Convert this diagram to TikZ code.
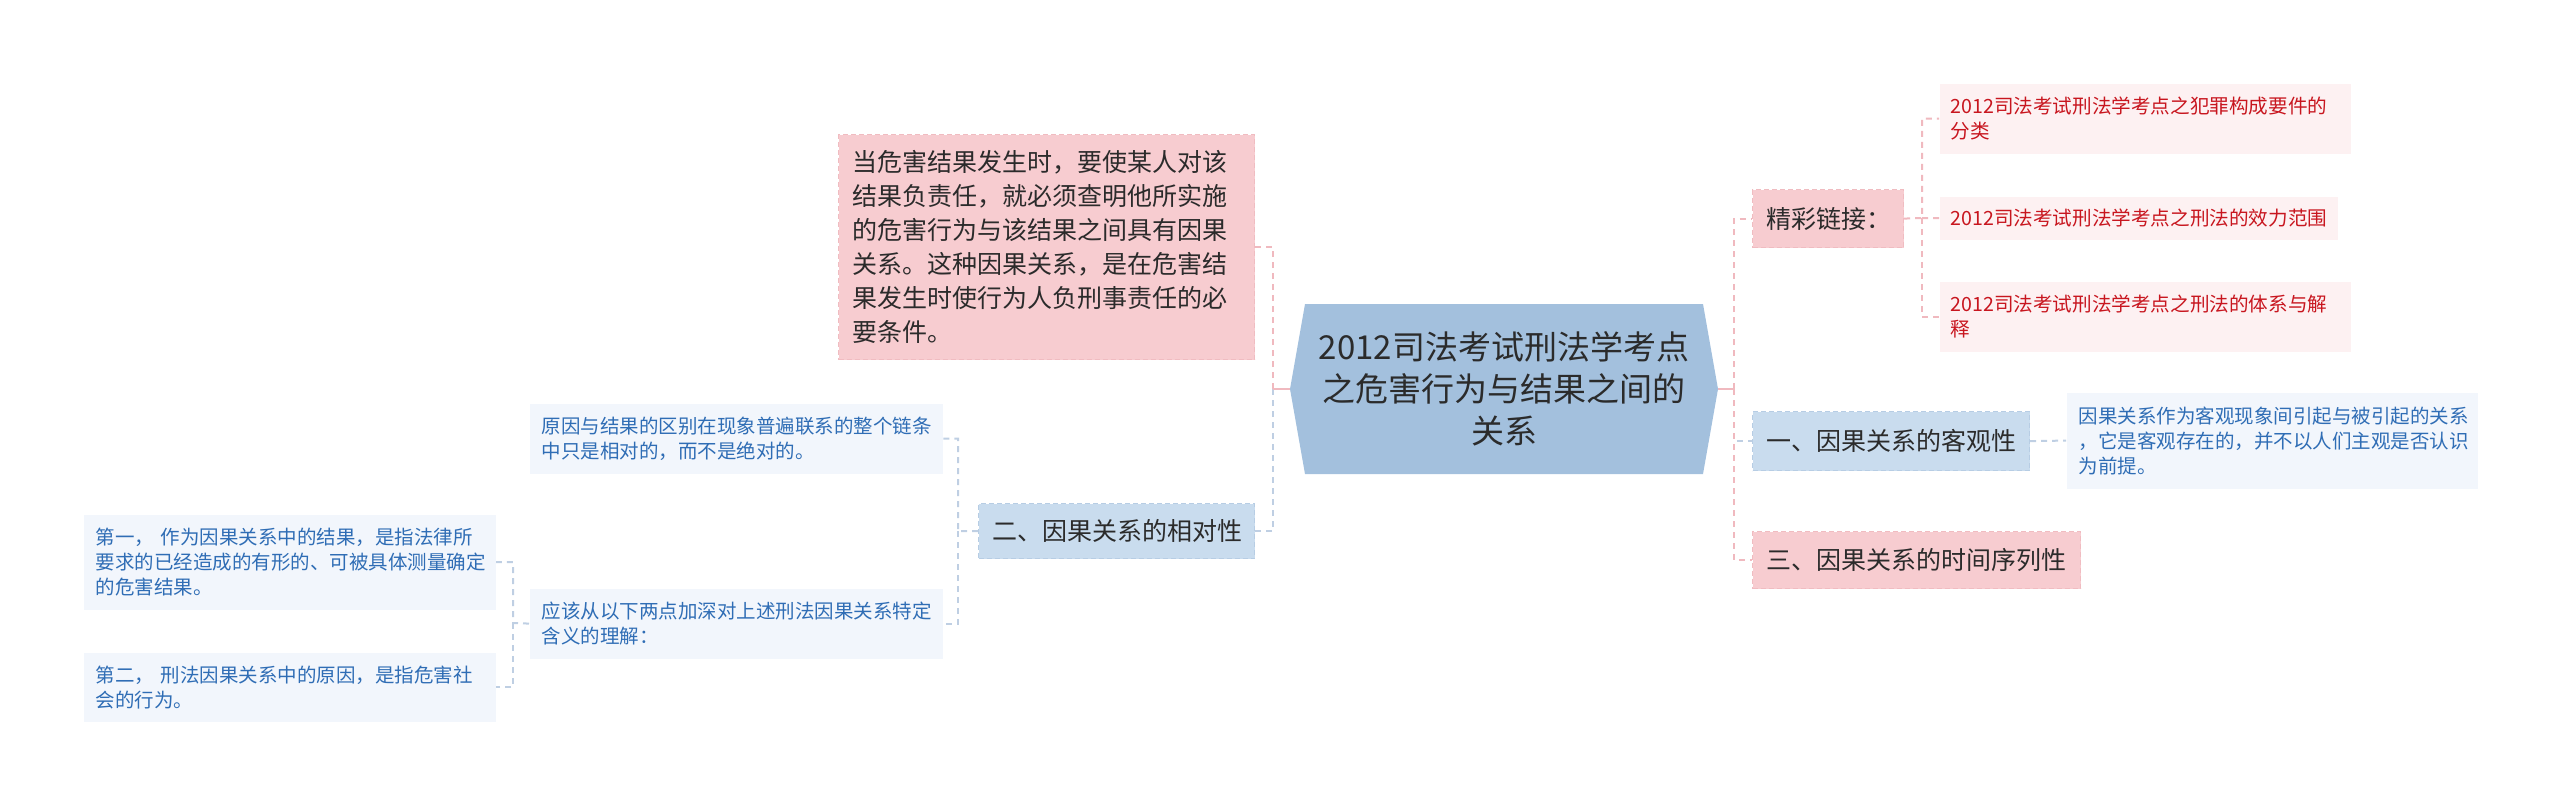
\documentclass[tikz,border=0pt]{standalone}
\usepackage{fontspec}
\setmainfont{Noto Sans CJK SC}
\definecolor{pinkfill}{HTML}{F7CCD0}
\definecolor{pinkline}{HTML}{F0BCC1}
\definecolor{bluefill}{HTML}{C9DCEE}
\definecolor{blueline}{HTML}{B7CDE4}
\definecolor{hubfill}{HTML}{A3C0DD}
\definecolor{lbfill}{HTML}{F2F6FC}
\definecolor{lpfill}{HTML}{FDF1F2}
\definecolor{bluetext}{HTML}{2F6DB5}
\definecolor{redtext}{HTML}{C8161F}
\definecolor{darktext}{HTML}{2B2B2B}
\definecolor{edgepink}{HTML}{F0B9BF}
\definecolor{edgeblue}{HTML}{BFCFE3}
\tikzset{
  boxbase/.style={rectangle, anchor=north west, inner ysep=2pt, align=left, dash pattern=on 5pt off 3pt, line width=1.2pt},
  mainpink/.style={boxbase, fill=pinkfill, draw=pinkline, text=darktext, inner xsep=14pt, font=\fontsize{25}{34}\selectfont},
  mainblue/.style={boxbase, fill=bluefill, draw=blueline, text=darktext, inner xsep=14pt, font=\fontsize{25}{34}\selectfont},
  leafblue/.style={boxbase, fill=lbfill, text=bluetext, inner xsep=12pt, font=\fontsize{19.5}{25}\selectfont},
  leafpink/.style={boxbase, fill=lpfill, text=redtext, inner xsep=11pt, font=\fontsize{19.6}{25}\selectfont},
  epink/.style={draw=edgepink, line width=2pt, dash pattern=on 6pt off 5pt},
  eblue/.style={draw=edgeblue, line width=2pt, dash pattern=on 6pt off 5pt},
  spink/.style={draw=edgepink, line width=2pt},
  sblue/.style={draw=edgeblue, line width=2pt},
}
\begin{document}
\begin{tikzpicture}[x=1pt,y=-1pt]
\useasboundingbox (0,0) rectangle (2560,805);
% central hexagon
\fill[hubfill] (1305,304) -- (1703,304) -- (1718,389) -- (1703,474) -- (1305,474) -- (1290,389) -- cycle;
\node[minimum width=428pt, minimum height=170pt, inner sep=0pt, align=center, text=darktext, font=\fontsize{33}{42}\selectfont] (hub) at (1504,389) {2012司法考试刑法学考点\\之危害行为与结果之间的\\关系};

% left side
\node[mainpink, minimum width=416pt, minimum height=225pt, text width=388pt] (ctx) at (838,134) {当危害结果发生时，要使某人对该\\结果负责任，就必须查明他所实施\\的危害行为与该结果之间具有因果\\关系。这种因果关系，是在危害结\\果发生时使行为人负刑事责任的必\\要条件。};
\node[mainblue, minimum width=276pt, minimum height=55pt, text width=248pt] (er) at (978,503) {二、因果关系的相对性};
\node[leafblue, minimum width=413pt, minimum height=70pt, text width=389pt] (lfa) at (529,403) {原因与结果的区别在现象普遍联系的整个链条\\中只是相对的，而不是绝对的。};
\node[leafblue, minimum width=413pt, minimum height=70pt, text width=389pt] (lfb) at (529,588) {应该从以下两点加深对上述刑法因果关系特定\\含义的理解：};
\node[leafblue, minimum width=412pt, minimum height=95pt, text width=388pt] (ga) at (83,514) {第一， 作为因果关系中的结果，是指法律所\\要求的已经造成的有形的、可被具体测量确定\\的危害结果。};
\node[leafblue, minimum width=412pt, minimum height=69pt, text width=388pt] (gb) at (83,652) {第二， 刑法因果关系中的原因，是指危害社\\会的行为。};

% right side
\node[mainpink, minimum width=151pt, minimum height=58pt, text width=123pt] (jc) at (1752,189) {精彩链接：};
\node[mainblue, minimum width=277pt, minimum height=59pt, text width=249pt] (yi) at (1752,411) {一、因果关系的客观性};
\node[mainpink, minimum width=328pt, minimum height=57pt, text width=300pt] (san) at (1752,531) {三、因果关系的时间序列性};
\node[leafpink, minimum width=411pt, minimum height=70pt, text width=389pt] (ra) at (1939,83) {2012司法考试刑法学考点之犯罪构成要件的\\分类};
\node[leafpink, minimum width=398pt, minimum height=43pt, text width=376pt] (rb) at (1939,196) {2012司法考试刑法学考点之刑法的效力范围};
\node[leafpink, minimum width=411pt, minimum height=70pt, text width=389pt] (rc) at (1939,281) {2012司法考试刑法学考点之刑法的体系与解\\释};
\node[leafblue, minimum width=411pt, minimum height=96pt, text width=387pt] (obj) at (2066,392) {因果关系作为客观现象间引起与被引起的关系\\，它是客观存在的，并不以人们主观是否认识\\为前提。};

% helper coordinates
\coordinate (hl) at (1273,389);
\coordinate (hr) at (1734,389);

% connectors left
\path[sblue] (hub.west) -- (hl);
\path[eblue] (hl) |- (er.east);
\path[spink] (hub.west) -- (hl);
\path[epink] (hl) |- (ctx.east);
\coordinate (erj) at (958,531);
\path[eblue] (er.west) -- (erj) |- (lfa.east);
\path[eblue] (erj) |- (lfb.east);
\coordinate (lbj) at (513,623);
\path[eblue] (lfb.west) -- (lbj) |- (ga.east);
\path[eblue] (lbj) |- (gb.east);

% connectors right
\path[sblue] (hub.east) -- (hr);
\path[eblue] (hr) |- (yi.west);
\path[spink] (hub.east) -- (hr);
\path[epink] (hr) |- (jc.west);
\path[epink] (hr) |- (san.west);
\coordinate (jcj) at (1922,218);
\path[epink] (jc.east) -- (jcj) |- (ra.west);
\path[epink] (jcj) -- (rb.west);
\path[epink] (jcj) |- (rc.west);
\path[eblue] (yi.east) -- (obj.west);
\end{tikzpicture}
\end{document}
